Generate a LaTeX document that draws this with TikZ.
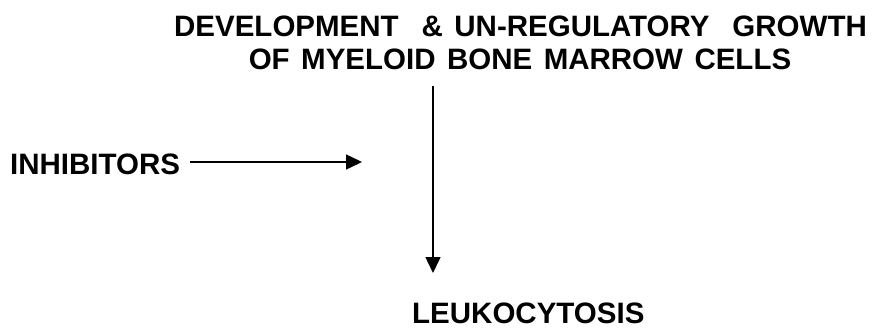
\documentclass[tikz,border=0pt]{standalone}
\usepackage{fontspec}
\setmainfont[WordSpace=1.4]{Liberation Sans}
\usetikzlibrary{positioning, arrows.meta}

\begin{document}
\begin{tikzpicture}[
    x=1pt, y=-1pt,
    every node/.style={font=\fontsize{29.5}{33}\selectfont\bfseries, inner sep=0pt},
    flow/.style={draw, line width=1.5pt, -{Triangle[length=16pt, width=15pt]}}
]
\useasboundingbox (0,0) rectangle (872,329);
\node[anchor=base] (growth) at (520.5,36.5) {DEVELOPMENT\ \ \& UN-REGULATORY\ \ GROWTH};
\node[anchor=base] (myeloid) at (520,70) {OF MYELOID BONE MARROW CELLS};
\node[anchor=base west] (inhib) at (10,174) {INHIBITORS};
\node[anchor=base west] (leuko) at (412,323) {LEUKOCYTOSIS};
\coordinate (split) at (433,86);
\coordinate (inhibend) at (362,162);
\coordinate (leukotop) at (433,273);
\draw[flow] (split) -- (leukotop);
\draw[flow] (inhib.east |- inhibend) ++(10,0) -- (inhibend);
\end{tikzpicture}
\end{document}
